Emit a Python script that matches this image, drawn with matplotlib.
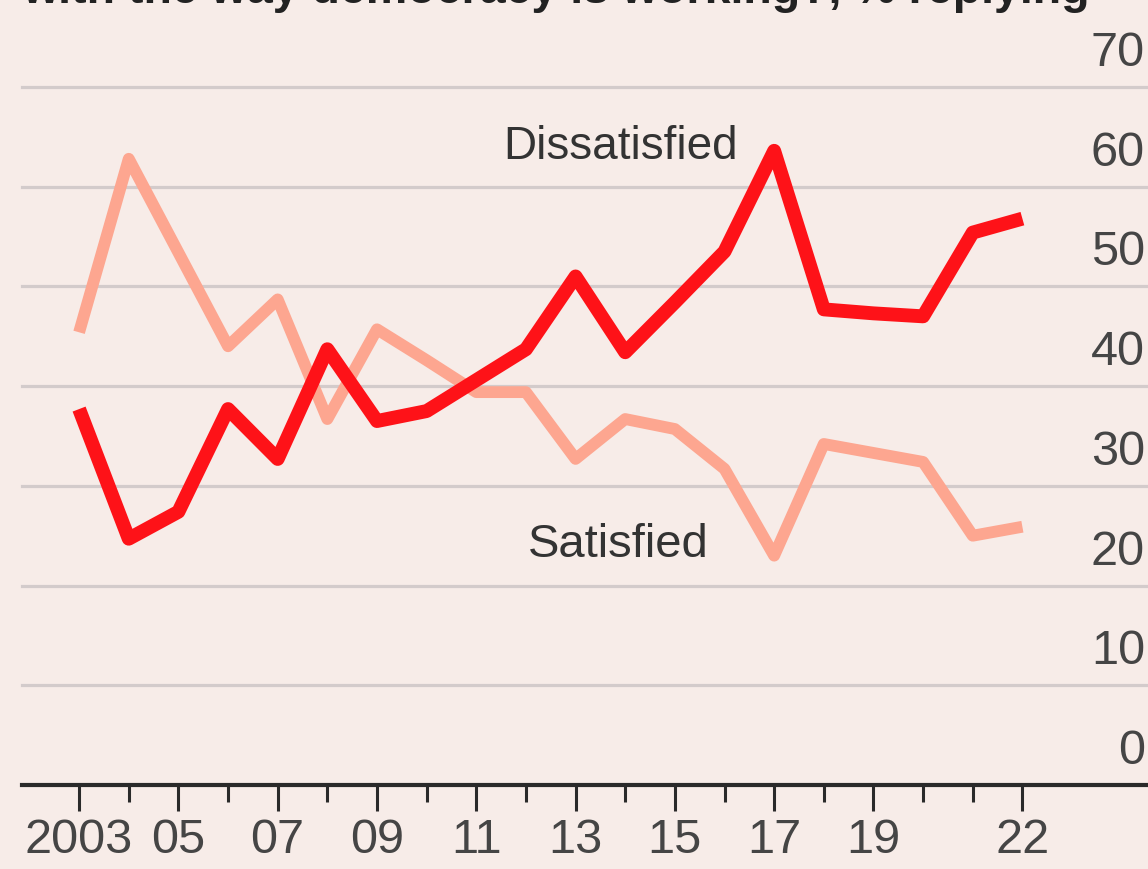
import matplotlib.pyplot as plt
from matplotlib.ticker import FixedLocator, NullFormatter
import matplotlib.transforms as mtransforms

# survey data, % replying
years = [2003, 2004, 2005, 2006, 2007, 2008, 2009, 2010, 2011, 2012,
         2013, 2014, 2015, 2016, 2017, 2018, 2019, 2020, 2021, 2022]
dissatisfied = [37.7, 24.7, 27.4, 37.7, 32.7, 43.7, 36.5, 37.5, 40.6, 43.7,
                51.0, 43.4, 48.4, 53.5, 63.6, 47.7, 47.3, 47.0, 55.4, 56.8]
satisfied = [45.4, 62.8, 53.4, 44.0, 48.7, 36.7, 45.7, 42.6, 39.4, 39.4,
             32.7, 36.7, 35.7, 31.7, 23.0, 34.2, 33.3, 32.4, 25.0, 25.9]

major_years = [2003, 2005, 2007, 2009, 2011, 2013, 2015, 2017, 2019, 2022]
major_labels = ["2003", "05", "07", "09", "11", "13", "15", "17", "19", "22"]
y_ticks = [0, 10, 20, 30, 40, 50, 60, 70]

bg = "#f7ece8"
red = "#fe1218"
pink = "#fda690"
grid_col = "#d3cbcb"
txt = "#333333"
lab_col = "#454545"

W, H = 1148, 870
fig = plt.figure(figsize=(W / 100, H / 100), dpi=100, facecolor=bg)
ax = fig.add_axes([22 / W, 84 / H, 1126 / W, 698 / H])
ax.set_facecolor(bg)
for s in ax.spines.values():
    s.set_visible(False)

ax.set_xlim(2001.85, 2024.53)
ax.set_ylim(0, 70)

for v in y_ticks[1:]:
    ax.axhline(v, color=grid_col, lw=2.3, zorder=1, clip_on=False)
ax.axhline(0, color="#2a2a2a", lw=3.0, zorder=4, clip_on=False)

ax.plot(years, satisfied, color=pink, lw=8.5, solid_joinstyle="round",
        solid_capstyle="butt", zorder=2)
ax.plot(years, dissatisfied, color=red, lw=10, solid_joinstyle="round",
        solid_capstyle="butt", zorder=3)

ax.text(2013.9, 62.9, "Dissatisfied", ha="center", va="baseline",
        fontsize=33, family="Liberation Sans", color=txt)
ax.text(2013.85, 23.0, "Satisfied", ha="center", va="baseline",
        fontsize=34, family="Liberation Sans", color=txt)

# x ticks: long ones labelled, short ones in between
ax.xaxis.set_major_locator(FixedLocator(major_years))
ax.set_xticklabels(major_labels)
ax.xaxis.set_minor_locator(FixedLocator([y for y in years if y not in major_years]))
ax.xaxis.set_minor_formatter(NullFormatter())
ax.tick_params(axis="x", which="major", direction="out", length=19, width=2.2,
               color="#2a2a2a", pad=4, labelsize=35, labelcolor=lab_col)
ax.tick_params(axis="x", which="minor", direction="out", length=12, width=2.2,
               color="#2a2a2a")
for lab in ax.get_xticklabels():
    lab.set_family("Liberation Sans")
ax.tick_params(axis="y", left=False, labelleft=False)

# y labels sit right-aligned above each gridline
off = mtransforms.offset_copy(ax.get_yaxis_transform(), fig=fig, x=-3, y=12, units="dots")
for v in y_ticks:
    ax.text(1.0, v, str(v), transform=off, ha="right", va="bottom",
            fontsize=35, family="Liberation Sans", color=lab_col)

# title line cropped at the top of the picture
fig.text(22 / W, 1 - 3 / H, "with the way democracy is working?, % replying",
         ha="left", va="baseline", fontsize=33.5, fontweight="bold", color="#222222",
         family="Liberation Sans")

plt.savefig("out.png", dpi=100, facecolor=bg)
